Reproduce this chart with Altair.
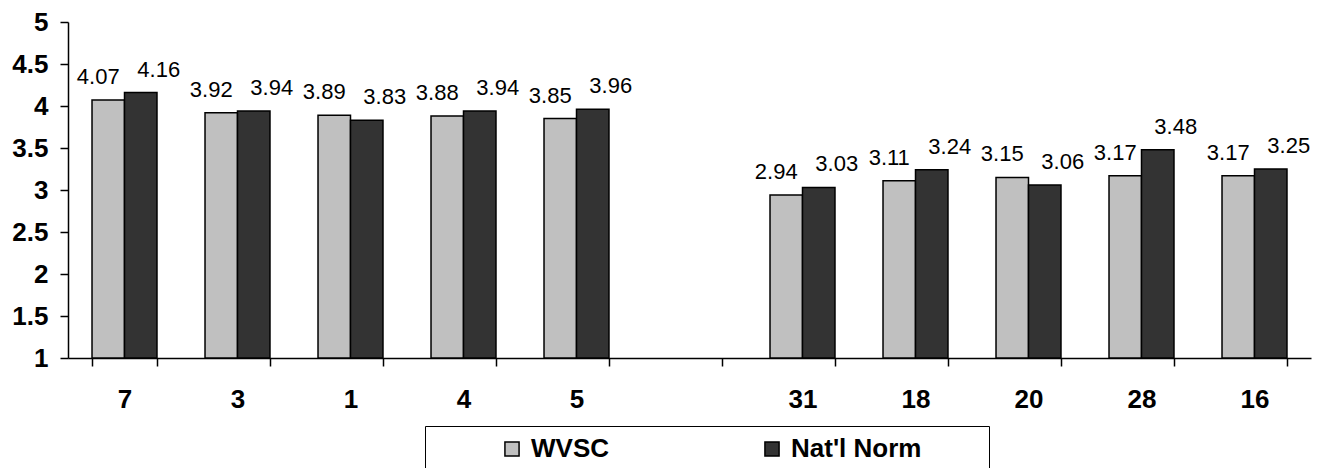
import altair as alt
import pandas as pd

categories = ["7", "3", "1", "4", "5", "gap", "31", "18", "20", "28", "16"]
series = ["WVSC", "Nat'l Norm"]
wvsc = [4.07, 3.92, 3.89, 3.88, 3.85, None, 2.94, 3.11, 3.15, 3.17, 3.17]
natl = [4.16, 3.94, 3.83, 3.94, 3.96, None, 3.03, 3.24, 3.06, 3.48, 3.25]
y_ticks = [1, 1.5, 2, 2.5, 3, 3.5, 4, 4.5, 5]

rows = []
for c, a, b in zip(categories, wvsc, natl):
    if a is not None:
        rows.append({"cat": c, "series": series[0], "value": a})
    if b is not None:
        rows.append({"cat": c, "series": series[1], "value": b})
df = pd.DataFrame(rows)

FONT = "Liberation Sans"
BLANK = "\u2800" * 3  # invisible, non-trimmed filler to widen the legend frame

x_enc = alt.X(
    "cat:N",
    sort=categories,
    scale=alt.Scale(domain=categories, paddingInner=0.425, paddingOuter=0.2125),
    axis=alt.Axis(
        title=None,
        labelAngle=0,
        tickBand="extent",
        tickSize=8,
        labelPadding=20,
        labelFontSize=26,
        labelExpr="datum.value == 'gap' ? '' : datum.label",
    ),
)
xo_enc = alt.XOffset("series:N", sort=series, scale=alt.Scale(domain=series))
y_enc = alt.Y(
    "value:Q",
    scale=alt.Scale(domain=[1, 5], zero=False, nice=False),
    axis=alt.Axis(title=None, values=y_ticks, format="~g", tickSize=8,
                  labelPadding=12, labelFontSize=26),
)

base = alt.Chart(df)

bars = base.mark_bar(stroke="black", strokeWidth=1.5).encode(
    x=x_enc,
    xOffset=xo_enc,
    y=y_enc,
    y2=alt.datum(1),
    color=alt.Color(
        "series:N",
        sort=series,
        scale=alt.Scale(domain=series, range=["#C0C0C0", "#333333"]),
        legend=alt.Legend(
            title=None,
            orient="none",
            legendX=357,
            legendY=404,
            direction="horizontal",
            strokeColor="black",
            fillColor="white",
            padding=10,
            symbolType="square",
            symbolSize=200,
            symbolStrokeColor="black",
            symbolStrokeWidth=1.5,
            symbolOffset=64,
            labelFont=FONT,
            labelFontSize=26,
            labelFontWeight="bold",
            labelColor="black",
            labelOffset=6,
            labelLimit=600,
            columnPadding=86,
            gridAlign="each",
            labelExpr="datum.value == \"Nat'l Norm\" ? datum.label + '" + BLANK + "' : datum.label",
        ),
    ),
)

text_a = base.transform_filter(alt.datum.series == series[0]).mark_text(
    dx=-10, dy=-16, baseline="alphabetic", fontSize=22, font=FONT, color="black"
).encode(x=x_enc, xOffset=xo_enc, y=y_enc, text=alt.Text("value:Q", format=".2f"))

text_b = base.transform_filter(alt.datum.series == series[1]).mark_text(
    dx=18, dy=-16, baseline="alphabetic", fontSize=22, font=FONT, color="black"
).encode(x=x_enc, xOffset=xo_enc, y=y_enc, text=alt.Text("value:Q", format=".2f"))

chart = (
    alt.layer(bars, text_a, text_b)
    .properties(
        width=1243,
        height=336,
        autosize=alt.AutoSizeParams(type="none"),
        padding={"left": 60, "top": 14, "right": 13, "bottom": 110},
    )
    .configure_view(stroke=None)
    .configure_axis(
        grid=False,
        domainColor="black",
        domainWidth=1.5,
        tickColor="black",
        tickWidth=1.5,
        labelColor="black",
        labelFont=FONT,
        labelFontWeight="bold",
    )
)

chart.save("out.html", embed_options={"renderer": "svg", "actions": False})
